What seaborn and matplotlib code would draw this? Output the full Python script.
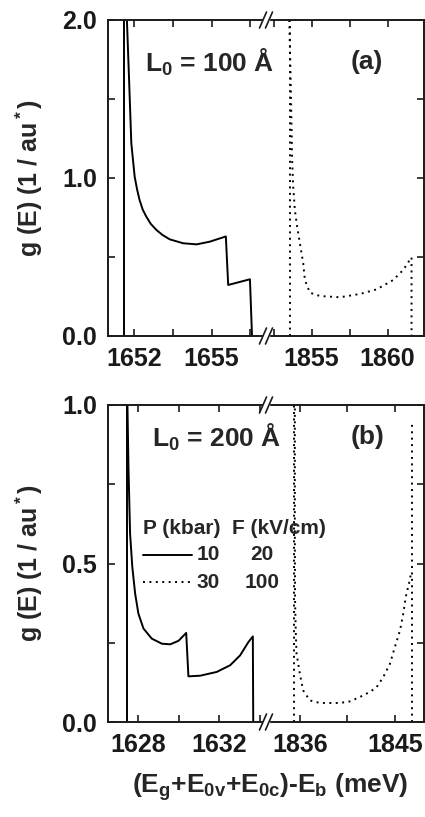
import numpy as np
import pandas as pd
import seaborn as sns
import matplotlib.pyplot as plt
from matplotlib.lines import Line2D
from matplotlib.patches import Rectangle

# ---- data (energy in meV, g(E) in 1/au*) ----
# panel (a), L0 = 100 A
a_solid_e = [1651.73, 1651.81, 1651.90, 1652.03, 1652.12, 1652.22, 1652.34, 1652.48,
             1652.65, 1652.87, 1653.10, 1653.38, 1653.90, 1654.42, 1654.93, 1655.55,
             1655.64, 1656.48, 1656.56]
a_solid_g = [2.0, 1.64, 1.22, 1.008, 0.93, 0.86, 0.80, 0.755,
             0.71, 0.671, 0.64, 0.612, 0.587, 0.58, 0.597, 0.63,
             0.323, 0.359, 0.0]
a_solid_edge = 1651.61

a_dot_e = [1853.53, 1853.62, 1853.68, 1853.72, 1853.79, 1853.90, 1854.05, 1854.23,
           1854.45, 1854.56, 1854.89, 1855.55, 1856.86, 1858.18, 1859.28, 1860.37,
           1861.03, 1861.58, 1861.58]
a_dot_g = [2.0, 1.64, 1.325, 1.114, 0.945, 0.797, 0.692, 0.587,
           0.46, 0.354, 0.274, 0.253, 0.245, 0.266, 0.295, 0.354,
           0.418, 0.498, 0.0]
a_dot_edge = 1853.57

# panel (b), L0 = 200 A
b_solid_e = [1627.46, 1627.51, 1627.59, 1627.70, 1627.84, 1628.0, 1628.25, 1628.66,
             1629.16, 1629.57, 1629.98, 1630.36, 1630.47, 1631.05, 1631.87, 1632.53,
             1633.02, 1633.43, 1633.65, 1633.67]
b_solid_g = [1.0, 0.804, 0.594, 0.489, 0.405, 0.342, 0.295, 0.263,
             0.247, 0.245, 0.256, 0.281, 0.144, 0.146, 0.158, 0.179,
             0.21, 0.252, 0.27, 0.0]
b_solid_edge = 1627.43

b_dot_e = [1835.53, 1835.53, 1835.55, 1835.62, 1835.69, 1836.0, 1836.31, 1836.95,
           1837.9, 1839.79, 1840.74, 1841.69, 1842.64, 1843.27, 1843.9, 1844.53,
           1845.0, 1845.48, 1845.79, 1846.02, 1846.33, 1846.52]
b_dot_g = [0.989, 0.594, 0.384, 0.279, 0.216, 0.153, 0.1, 0.068,
           0.06, 0.06, 0.065, 0.079, 0.095, 0.11, 0.142, 0.184,
           0.237, 0.289, 0.342, 0.394, 0.437, 0.468]
b_dot_edges = [1835.46, 1846.59]
b_dot_edge_tops = [1.0, 0.946]

# axis settings
a_xlim_left, a_xlim_right = (1651.0, 1657.1), (1852.0, 1862.4)
b_xlim_left, b_xlim_right = (1626.5, 1634.3), (1832.8, 1847.75)
a_xticks_left, a_xlabels_left = [1652, 1653.5, 1655, 1656.5], ['1652', '', '1655', '']
a_xticks_right, a_xlabels_right = [1852.5, 1855, 1857.5, 1860], ['', '1855', '', '1860']
b_xticks_left, b_xlabels_left = [1628, 1630, 1632, 1634], ['1628', '', '1632', '']
b_xticks_right, b_xlabels_right = [1836, 1840.5, 1845], ['1836', '', '1845']
a_yticks, a_ylabels = [0, 0.5, 1.0, 1.5, 2.0], ['0.0', '', '1.0', '', '2.0']
b_yticks, b_ylabels = [0, 0.25, 0.5, 0.75, 1.0], ['0.0', '', '0.5', '', '1.0']

sns.set_theme(style='ticks')
plt.rcParams['font.family'] = ['Liberation Sans', 'DejaVu Sans']
plt.rcParams['font.weight'] = 'bold'
plt.rcParams['mathtext.fontset'] = 'custom'
plt.rcParams['mathtext.rm'] = 'Liberation Sans:bold'
plt.rcParams['mathtext.bf'] = 'Liberation Sans:bold'
plt.rcParams['mathtext.it'] = 'Liberation Sans:bold'
plt.rcParams['mathtext.default'] = 'bf'

W, H = 425, 817
fig = plt.figure(figsize=(W / 100, H / 100), dpi=100)

X0, XB, X1 = 108, 266, 424
INK = '#1a1a1a'


def fx(px):
    return px / W


def fy(py):
    return 1 - py / H


def make_panel(top, bottom):
    h = (bottom - top) / H
    axl = fig.add_axes([fx(X0), fy(bottom), (XB - X0) / W, h])
    axr = fig.add_axes([fx(XB), fy(bottom), (X1 - XB) / W, h])
    for ax in (axl, axr):
        for s in ax.spines.values():
            s.set_linewidth(1.4)
            s.set_color(INK)
        ax.tick_params(direction='in', length=5, width=1.2, top=True,
                       labelsize=18, pad=8, colors=INK)
    axl.spines['right'].set_visible(False)
    axr.spines['left'].set_visible(False)
    axl.tick_params(right=False)
    axr.tick_params(left=False, right=True, labelleft=False)
    return axl, axr


def break_marks(top, bottom):
    for py in (top, bottom):
        fig.patches.append(Rectangle((fx(XB - 3), fy(py) - 1.5 / H), 6 / W, 3 / H,
                                     transform=fig.transFigure, color='white', zorder=5))
        for dx in (-3, 3):
            fig.lines.append(Line2D([fx(XB + dx - 3.5), fx(XB + dx + 3.5)],
                                    [fy(py + 8), fy(py - 8)], transform=fig.transFigure,
                                    color=INK, lw=1.2, zorder=6))


def curve(ax, e, g, ls):
    df = pd.DataFrame({'E': e, 'g': g})
    sns.lineplot(data=df, x='E', y='g', ax=ax, sort=False, estimator=None,
                 color='black', linestyle=ls, linewidth=1.4)


solid = '-'
dotted = (0, (1.0, 2.3))

# ---- panel (a) ----
top_a, bot_a = 20, 336
axl, axr = make_panel(top_a, bot_a)
curve(axl, [a_solid_edge, a_solid_edge], [0, 2.0], solid)
curve(axl, a_solid_e, a_solid_g, solid)
curve(axr, [a_dot_edge, a_dot_edge], [0, 2.0], dotted)
curve(axr, a_dot_e, a_dot_g, dotted)
axl.set_xlim(*a_xlim_left)
axr.set_xlim(*a_xlim_right)
axl.set_xticks(a_xticks_left, a_xlabels_left)
axr.set_xticks(a_xticks_right, a_xlabels_right)
for ax in (axl, axr):
    ax.set_ylim(0, 2.0)
    ax.set_yticks(a_yticks, a_ylabels)
    ax.set_xlabel('')
    ax.set_ylabel('')
axl.set_ylabel('g (E) (1 / au$^*$)', fontsize=18, fontweight='bold', labelpad=12)
break_marks(top_a, bot_a)
fig.text(fx(210), fy(62), 'L$_0$ = 100 Å', fontsize=19, fontweight='bold',
         ha='center', va='center')
fig.text(fx(367), fy(62), '(a)', fontsize=19, fontweight='bold',
         ha='center', va='center')

# ---- panel (b) ----
top_b, bot_b = 405, 722
axl, axr = make_panel(top_b, bot_b)
curve(axl, [b_solid_edge, b_solid_edge], [0, 1.0], solid)
curve(axl, b_solid_e, b_solid_g, solid)
for edge, tip in zip(b_dot_edges, b_dot_edge_tops):
    curve(axr, [edge, edge], [0, tip], dotted)
curve(axr, b_dot_e, b_dot_g, dotted)
axl.set_xlim(*b_xlim_left)
axr.set_xlim(*b_xlim_right)
axl.set_xticks(b_xticks_left, b_xlabels_left)
axr.set_xticks(b_xticks_right, b_xlabels_right)
for ax in (axl, axr):
    ax.set_ylim(0, 1.0)
    ax.set_yticks(b_yticks, b_ylabels)
    ax.set_xlabel('')
    ax.set_ylabel('')
axl.set_ylabel('g (E) (1 / au$^*$)', fontsize=18, fontweight='bold', labelpad=12)
break_marks(top_b, bot_b)
fig.text(fx(217), fy(437), 'L$_0$ = 200 Å', fontsize=19, fontweight='bold',
         ha='center', va='center')
fig.text(fx(368), fy(437), '(b)', fontsize=19, fontweight='bold',
         ha='center', va='center')

# hand-made legend
fig.text(fx(143), fy(528), 'P (kbar)  F (kV/cm)', fontsize=15, fontweight='bold',
         ha='left', va='center')
fig.lines.append(Line2D([fx(143), fx(192)], [fy(555), fy(555)], transform=fig.transFigure,
                        color='black', lw=1.4, linestyle=solid))
fig.lines.append(Line2D([fx(143), fx(192)], [fy(582), fy(582)], transform=fig.transFigure,
                        color='black', lw=1.4, linestyle=dotted))
for py, p, f in [(555, '10', '20'), (582, '30', '100')]:
    fig.text(fx(220), fy(py), p, fontsize=15, fontweight='bold', ha='right', va='center')
    fig.text(fx(262), fy(py), f, fontsize=15, fontweight='bold', ha='center', va='center')

fig.text(fx(270), fy(787), '(E$_g$+E$_{0v}$+E$_{0c}$)-E$_b$ (meV)', fontsize=19,
         fontweight='bold', ha='center', va='center')

fig.savefig('out.png', dpi=100)
